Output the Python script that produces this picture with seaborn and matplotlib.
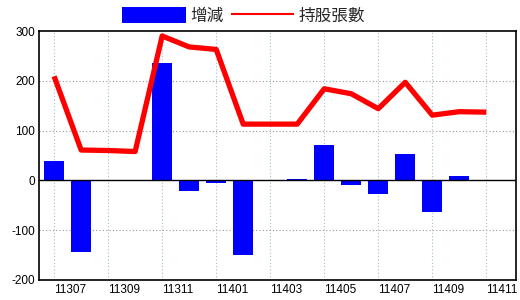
import matplotlib
matplotlib.use("Agg")
import matplotlib.pyplot as plt
import matplotlib.transforms as mtransforms
import seaborn as sns
import pandas as pd

months = ["11307", "11308", "11309", "11310", "11311", "11312",
          "11401", "11402", "11403", "11404", "11405", "11406",
          "11407", "11408", "11409", "11410", "11411"]
change = [38, -144, 0, 0, 235, -22, -5, -149, 0, 2, 72, -10, -27, 54, -64, 9, 0]
holdings = [209, 61, 60, 58, 290, 268, 263, 113, 113, 113, 184, 174, 144, 197, 131, 138, 137]
yticks = [300, 200, 100, 0, -100, -200]

df = pd.DataFrame({"month": months, "change": change, "holdings": holdings})

sns.set_style("white")
plt.rcParams["font.family"] = ["Liberation Sans", "Noto Sans CJK TC", "DejaVu Sans"]

fig = plt.figure(figsize=(5.2, 3.0), dpi=100)
ax = fig.add_axes([39 / 520, 20 / 300, 477 / 520, 249 / 300])

sns.barplot(data=df, x="month", y="change", color="#0000FF", saturation=1,
            width=0.74, linewidth=0, ax=ax, label="增減", zorder=3)
sns.lineplot(data=df, x="month", y="holdings", color="#FF0000", linewidth=3.8,
             ax=ax, label="持股張數", zorder=4, sort=False)
for ln in ax.lines:
    ln.set_solid_joinstyle("round")
    ln.set_solid_capstyle("butt")

ax.axhline(0, color="black", linewidth=1.0, zorder=5)

ax.set_xlim(-0.56, 16 + 1.1)
ax.set_ylim(-200, 300)
ax.set_yticks(yticks)
ax.set_yticklabels([str(v) for v in yticks], fontsize=8.5)
xt = list(range(0, len(months), 2))
ax.set_xticks(xt)
ax.set_xticklabels([months[i] for i in xt], fontsize=8.5, ha="left")
offset = mtransforms.ScaledTranslation(3 / 100, 0, fig.dpi_scale_trans)
for lab in ax.get_xticklabels():
    lab.set_transform(lab.get_transform() + offset)
ax.tick_params(axis="both", length=0, pad=3, colors="black")
ax.set_xlabel("")
ax.set_ylabel("")

for v in [100, 200, -100]:
    ax.axhline(v, color="#999999", linewidth=0.8, linestyle=(0, (1, 2)), zorder=1)
for i in xt:
    ax.axvline(i, color="#9fbfcf", linewidth=0.8, linestyle=(0, (1, 2)), zorder=1)

for s in ax.spines.values():
    s.set_visible(True)
    s.set_color("black")
    s.set_linewidth(1.2)

handles, labels = ax.get_legend_handles_labels()
if ax.get_legend() is not None:
    ax.get_legend().remove()
order = [labels.index("增減"), labels.index("持股張數")]
handles = [handles[i] for i in order]
labels = [labels[i] for i in order]
leg = fig.legend(handles, labels, loc="center", bbox_to_anchor=(244 / 520, 1 - 16 / 300),
                 ncol=2, frameon=False, handlelength=3.8, handleheight=1.1,
                 handletextpad=0.3, columnspacing=0.4, borderpad=0,
                 prop={"family": ["Noto Sans CJK TC"], "size": 12})
for ln in leg.get_lines():
    ln.set_linewidth(1.5)

fig.savefig("out.png", dpi=100)
